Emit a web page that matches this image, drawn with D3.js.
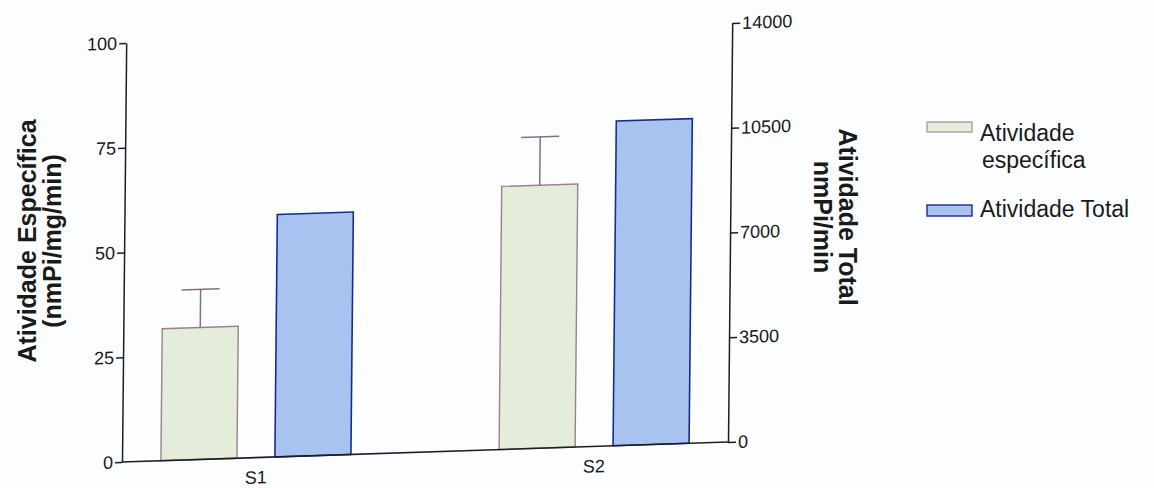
<!DOCTYPE html>
<html>
<head>
<meta charset="utf-8">
<script src="https://cdn.jsdelivr.net/npm/d3@7"></script>
<style>
  html, body { margin: 0; padding: 0; background: #fcfdfe; }
  svg { display: block; font-family: "Liberation Sans", Arial, sans-serif; }
</style>
</head>
<body>
<svg id="chart" width="1154" height="488"></svg>
<script>
// Categories and series
const categories = ["S1", "S2"];
const seriesNames = ["Atividade específica", "Atividade Total"];
const especifica = [31.5, 62.8];        // nmPi/mg/min (left axis)
const especificaErr = [9.1, 11.5];      // upper error
const total = [8100, 10850];            // nmPi/min (right axis)
const leftTicks = [0, 25, 50, 75, 100];
const rightTicks = [0, 3500, 7000, 10500, 14000];

const svg = d3.select("#chart");
const x0 = 122, x1 = 728, yBase = 462, yTop = 43;

// slight sheet skew of the printed figure
const shearY = -0.033, shearX = -0.01;
const plot = svg.append("g")
  .attr("transform", `matrix(1,${shearY},${shearX},1,${-shearX * yBase},${-shearY * x0})`);

const xGroup = d3.scalePoint().domain(categories).range([x0, x1]).padding(0.396);
const xSeries = d3.scaleBand().domain(seriesNames).range([-95, 95]).paddingInner(0.333);
const yL = d3.scaleLinear().domain([0, 100]).range([yBase, yTop]);
const yR = d3.scaleLinear().domain([0, 14000]).range([yBase, yTop]);

const axisColor = "#1d1d26";

// bars: specific activity (left scale)
plot.selectAll("rect.esp").data(categories).join("rect")
  .attr("class", "esp")
  .attr("x", d => xGroup(d) + xSeries(seriesNames[0]))
  .attr("width", xSeries.bandwidth())
  .attr("y", (d, i) => yL(especifica[i]))
  .attr("height", (d, i) => yBase - yL(especifica[i]))
  .attr("fill", "#e3edd9")
  .attr("stroke", "#9a8090")
  .attr("stroke-width", 1.4);

// error bars
const errG = plot.selectAll("g.err").data(categories).join("g").attr("class", "err")
  .attr("stroke", "#86707e").attr("stroke-width", 1.5);
errG.append("line")
  .attr("x1", d => xGroup(d) + xSeries(seriesNames[0]) + xSeries.bandwidth() / 2)
  .attr("x2", d => xGroup(d) + xSeries(seriesNames[0]) + xSeries.bandwidth() / 2)
  .attr("y1", (d, i) => yL(especifica[i]))
  .attr("y2", (d, i) => yL(especifica[i] + especificaErr[i]));
errG.append("line")
  .attr("x1", d => xGroup(d) + xSeries(seriesNames[0]) + xSeries.bandwidth() / 4)
  .attr("x2", d => xGroup(d) + xSeries(seriesNames[0]) + xSeries.bandwidth() * 3 / 4)
  .attr("y1", (d, i) => yL(especifica[i] + especificaErr[i]))
  .attr("y2", (d, i) => yL(especifica[i] + especificaErr[i]));

// bars: total activity (right scale)
plot.selectAll("rect.tot").data(categories).join("rect")
  .attr("class", "tot")
  .attr("x", d => xGroup(d) + xSeries(seriesNames[1]))
  .attr("width", xSeries.bandwidth())
  .attr("y", (d, i) => yR(total[i]))
  .attr("height", (d, i) => yBase - yR(total[i]))
  .attr("fill", "#a9c3f1")
  .attr("stroke", "#1b2c86")
  .attr("stroke-width", 1.6);

// axes
const axL = plot.append("g").attr("transform", `translate(${x0},0)`)
  .call(d3.axisLeft(yL).tickValues(leftTicks).tickFormat(d3.format("d"))
    .tickSize(7).tickSizeOuter(0).tickPadding(2));
const axR = plot.append("g").attr("transform", `translate(${x1},0)`)
  .call(d3.axisRight(yR).tickValues(rightTicks).tickFormat(d3.format("d"))
    .tickSize(8).tickSizeOuter(0).tickPadding(2));
[axL, axR].forEach(ax => {
  ax.attr("font-size", 18).attr("font-family", "'Liberation Sans', Arial, sans-serif");
  ax.selectAll("path, line").attr("stroke", axisColor).attr("stroke-width", 1.5);
  ax.selectAll("text").attr("fill", "#1a1a1a");
});

// baseline
plot.append("line")
  .attr("x1", x0).attr("x2", x1).attr("y1", yBase).attr("y2", yBase)
  .attr("stroke", axisColor).attr("stroke-width", 1.6);

// category labels
plot.selectAll("text.cat").data(categories).join("text")
  .attr("class", "cat")
  .attr("x", d => xGroup(d))
  .attr("y", yBase + 26)
  .attr("text-anchor", "middle")
  .attr("font-size", 18)
  .attr("fill", "#1a1a1a")
  .text(d => d);

// left axis title
const lt = svg.append("text")
  .attr("transform", "translate(36,241) rotate(-90)")
  .attr("text-anchor", "middle")
  .attr("font-size", 25).attr("font-weight", "bold").attr("fill", "#1a1a1a");
lt.append("tspan").attr("x", 0).attr("y", 0).text("Atividade Específica");
lt.append("tspan").attr("x", 0).attr("y", 25).text("(nmPi/mg/min)");

// right axis title
const rt = svg.append("text")
  .attr("transform", "translate(839,217) rotate(90)")
  .attr("text-anchor", "middle")
  .attr("font-size", 25).attr("font-weight", "bold").attr("fill", "#1a1a1a");
rt.append("tspan").attr("x", 0).attr("y", 0).text("Atividade Total");
rt.append("tspan").attr("x", 0).attr("y", 25).text("nmPi/min");

// legend
const legend = svg.append("g").attr("font-size", 23).attr("fill", "#1a1a1a");
legend.append("rect").attr("x", 927).attr("y", 122).attr("width", 45).attr("height", 10)
  .attr("fill", "#e3edd9").attr("stroke", "#a09098").attr("stroke-width", 1.2);
legend.append("text").attr("x", 980).attr("y", 141).text("Atividade");
legend.append("text").attr("x", 982).attr("y", 168).text("específica");
legend.append("rect").attr("x", 927).attr("y", 205).attr("width", 45).attr("height", 11)
  .attr("fill", "#a9c3f1").attr("stroke", "#1b2c86").attr("stroke-width", 1.4);
legend.append("text").attr("x", 980).attr("y", 217).text("Atividade Total");
</script>
</body>
</html>
